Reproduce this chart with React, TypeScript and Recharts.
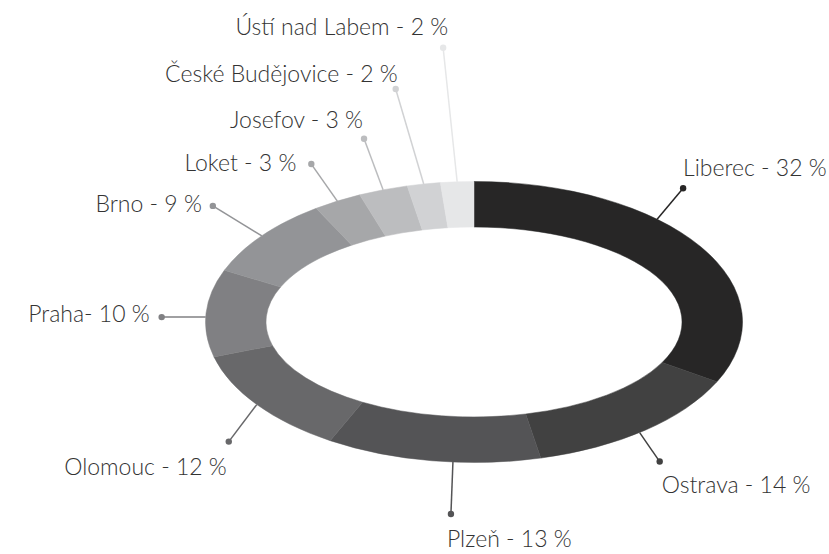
import { PieChart, Pie, Cell } from 'recharts';

const cities = ['Liberec', 'Ostrava', 'Plzeň', 'Olomouc', 'Praha', 'Brno', 'Loket', 'Josefov', 'České Budějovice', 'Ústí nad Labem'];
const shares = [32, 14, 13, 12, 10, 9, 3, 3, 2, 2];
const labelTexts = ['Liberec - 32 %', 'Ostrava - 14 %', 'Plzeň - 13 %', 'Olomouc - 12 %', 'Praha- 10 %', 'Brno - 9 %', 'Loket - 3 %', 'Josefov - 3 %', 'České Budějovice - 2 %', 'Ústí nad Labem - 2 %'];

const COLORS = ['#272626', '#414141', '#545456', '#68686a', '#808083', '#939497', '#a6a7a9', '#bcbdbf', '#d1d2d4', '#e6e7e8'];

// label layout: anchor shift (deg clockwise), dot offset from anchor, text offset from dot
const LABEL_LAYOUT = [
  { shift: -14.6, dx: 26, dy: -31, tx: 0, ty: -12, anchor: 'start' },
  { shift: 1.5, dx: 20, dy: 29, tx: 2, ty: 31, anchor: 'start' },
  { shift: -4.5, dx: -2, dy: 52, tx: -4, ty: 33, anchor: 'start' },
  { shift: 0, dx: -28, dy: 37, tx: -2, ty: 33, anchor: 'end' },
  { shift: -1.6, dx: -44, dy: 0, tx: -12, ty: 5, anchor: 'end' },
  { shift: 0, dx: -49, dy: -30, tx: -11, ty: 6, anchor: 'end' },
  { shift: 0, dx: -26, dy: -37, tx: -15, ty: 7, anchor: 'end' },
  { shift: 0, dx: -19, dy: -51, tx: -1, ty: -11, anchor: 'end' },
  { shift: 0, dx: -28, dy: -95, tx: 2, ty: -7, anchor: 'end' },
  { shift: 0, dx: -14, dy: -134, tx: 5, ty: -13, anchor: 'end' },
];

const data = cities.map((name, i) => ({ name, value: shares[i] }));

const RADIAN = Math.PI / 180;
const OUTER_RATIO = 140.5 / 268.5;
const INNER_RATIO = 95 / 208;

const pt = (cx: number, cy: number, rx: number, ry: number, a: number) =>
  [cx + rx * Math.cos(a * RADIAN), cy - ry * Math.sin(a * RADIAN)];

// draws the slice on an ellipse instead of a circle
const EllipseSector = (props: any) => {
  const { cx, cy, innerRadius, outerRadius, startAngle, endAngle, fill } = props;
  const rxo = outerRadius, ryo = outerRadius * OUTER_RATIO;
  const rxi = innerRadius, ryi = innerRadius * INNER_RATIO;
  const large = Math.abs(startAngle - endAngle) > 180 ? 1 : 0;
  const sweep = startAngle > endAngle ? 1 : 0;
  const [x1, y1] = pt(cx, cy, rxo, ryo, startAngle);
  const [x2, y2] = pt(cx, cy, rxo, ryo, endAngle);
  const [x3, y3] = pt(cx, cy, rxi, ryi, endAngle);
  const [x4, y4] = pt(cx, cy, rxi, ryi, startAngle);
  const d = `M${x1},${y1} A${rxo},${ryo} 0 ${large} ${sweep} ${x2},${y2} L${x3},${y3} A${rxi},${ryi} 0 ${large} ${1 - sweep} ${x4},${y4} Z`;
  return <path d={d} fill={fill} stroke={fill} strokeWidth={0.5} />;
};

const renderLabel = (props: any) => {
  const { cx, cy, midAngle, outerRadius, index } = props;
  const l = LABEL_LAYOUT[index];
  const [ax, ay] = pt(cx, cy, outerRadius, outerRadius * OUTER_RATIO, midAngle - l.shift);
  const px = ax + l.dx, py = ay + l.dy;
  const color = COLORS[index];
  return (
    <g key={`lbl-${index}`}>
      <line x1={ax} y1={ay} x2={px} y2={py} stroke={color} strokeWidth={1.5} />
      <circle cx={px} cy={py} r={3.2} fill={color} />
      <text x={px + l.tx} y={py + l.ty} textAnchor={l.anchor} fill="#333" fontSize={23} fontWeight={300} fontFamily="Lato, sans-serif">
        {labelTexts[index]}
      </text>
    </g>
  );
};

export default function App() {
  return (
    <div style={{ position: 'absolute', top: 0, left: 0, width: 829, height: 554, background: '#fff' }}>
      <PieChart width={829} height={554} margin={{ top: 0, right: 0, bottom: 0, left: 0 }}>
        <Pie
          data={data}
          dataKey="value"
          cx={474}
          cy={322}
          outerRadius={268.5}
          innerRadius={208}
          startAngle={90}
          endAngle={-270}
          stroke="none"
          labelLine={false}
          label={renderLabel}
          shape={EllipseSector}
          activeShape={EllipseSector}
          isAnimationActive={false}
        >
          {data.map((entry, index) => (
            <Cell key={`cell-${index}`} fill={COLORS[index]} style={{ outline: 'none' }} />
          ))}
        </Pie>
      </PieChart>
    </div>
  );
}
